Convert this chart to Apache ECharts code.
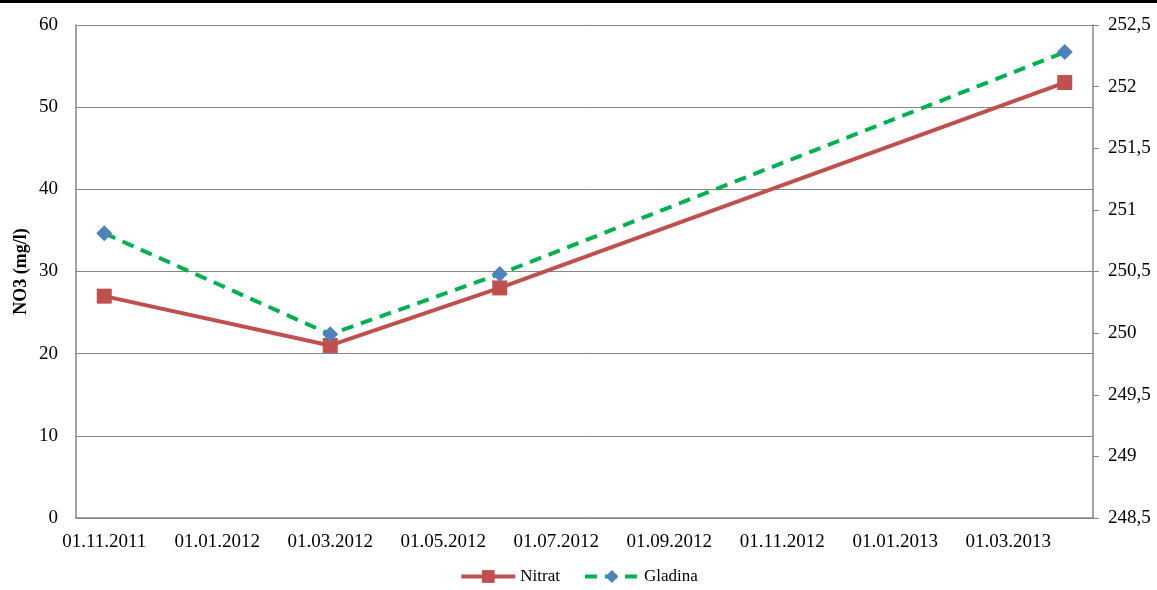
<!DOCTYPE html>
<html>
<head>
<meta charset="utf-8">
<script src="https://cdn.jsdelivr.net/npm/echarts@6/dist/echarts.min.js"></script>
<style>
  html, body { margin: 0; padding: 0; background: #fff; }
  #chart { width: 1157px; height: 587px; border-top: 3px solid #000; }
</style>
</head>
<body>
<div id="chart"></div>
<script>
// monthly slots, Nov 2011 .. Apr 2013
const months = [
  "01.11.2011", "01.12.2011", "01.01.2012", "01.02.2012", "01.03.2012", "01.04.2012",
  "01.05.2012", "01.06.2012", "01.07.2012", "01.08.2012", "01.09.2012", "01.10.2012",
  "01.11.2012", "01.12.2012", "01.01.2013", "01.02.2013", "01.03.2013", "01.04.2013"
];
// measurements (null where no sample in that month)
const nitrat = [27, null, null, null, 21, null, null, 28, null, null, null, null, null, null, null, null, null, 53];
const gladina = [250.81, null, null, null, 249.99, null, null, 250.48, null, null, null, null, null, null, null, null, null, 252.28];

const font = "'Liberation Serif', 'Times New Roman', serif";
const chart = echarts.init(document.getElementById("chart"));

const option = {
  animation: false,
  textStyle: { fontFamily: font },
  grid: { left: 76, right: 64, top: 22, bottom: 72, outerBoundsMode: "none" },
  legend: {
    bottom: 0,
    left: "center",
    itemWidth: 54,
    itemHeight: 16,
    itemGap: 23,
    lineStyle: { width: 4 },
    textStyle: { fontFamily: font, fontSize: 17, color: "#000" },
    data: ["Nitrat", "Gladina"]
  },
  xAxis: {
    type: "category",
    boundaryGap: true,
    data: months,
    axisLine: { lineStyle: { color: "#868686", width: 1.5 } },
    axisTick: { show: false },
    axisLabel: { interval: 1, margin: 15, fontSize: 19, color: "#000", fontFamily: font }
  },
  yAxis: [
    {
      type: "value",
      min: 0,
      max: 60,
      interval: 10,
      name: "NO3 (mg/l)",
      nameLocation: "middle",
      nameGap: 46,
      nameMoveOverlap: false,
      nameTextStyle: { fontFamily: font, fontSize: 18, fontWeight: "bold", color: "#000" },
      axisLine: { show: true, lineStyle: { color: "#868686", width: 1.5 } },
      axisTick: { show: false },
      axisLabel: { margin: 18, fontSize: 19, color: "#000", fontFamily: font },
      splitLine: { lineStyle: { color: "#868686", width: 1 } }
    },
    {
      type: "value",
      min: 248.5,
      max: 252.5,
      interval: 0.5,
      position: "right",
      axisLine: { show: true, lineStyle: { color: "#868686", width: 1.5 } },
      axisTick: { show: true, length: 6, lineStyle: { color: "#868686" } },
      axisLabel: {
        margin: 15,
        fontSize: 19,
        color: "#000",
        fontFamily: font,
        formatter: (v) => String(Math.round(v * 10) / 10).replace(".", ",")
      },
      splitLine: { show: false }
    }
  ],
  series: [
    {
      name: "Nitrat",
      type: "line",
      yAxisIndex: 0,
      data: nitrat,
      connectNulls: true,
      symbol: "rect",
      symbolSize: 15,
      lineStyle: { color: "#C0504D", width: 4 },
      itemStyle: { color: "#C0504D" }
    },
    {
      name: "Gladina",
      type: "line",
      yAxisIndex: 1,
      data: gladina,
      connectNulls: true,
      symbol: "diamond",
      symbolSize: 16,
      lineStyle: { color: "#00B050", width: 4, type: [12, 8] },
      itemStyle: { color: "#4F81BD" }
    }
  ]
};
chart.setOption(option);
</script>
</body>
</html>
